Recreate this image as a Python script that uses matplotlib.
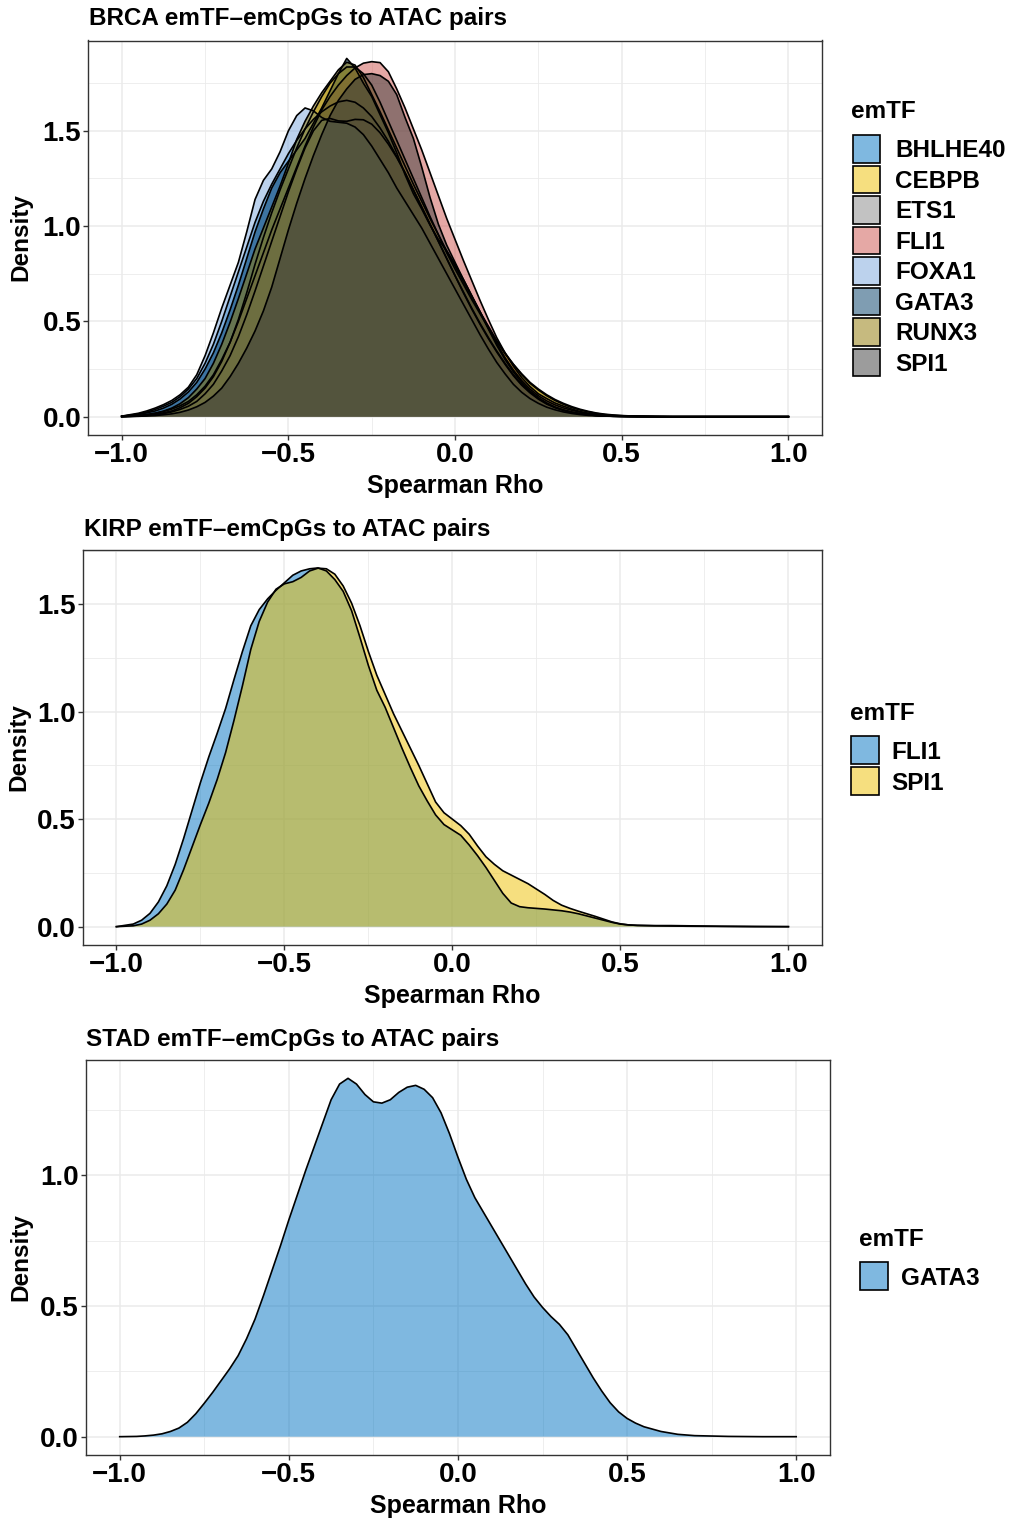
import matplotlib
matplotlib.use("Agg")
import matplotlib.pyplot as plt
from matplotlib.patches import Rectangle
from matplotlib.colors import to_rgba
from matplotlib.ticker import MultipleLocator

plt.rcParams['font.family'] = ['Liberation Sans', 'DejaVu Sans']
plt.rcParams['font.weight'] = 'bold'

# ---------------- data (density) ----------------
rho = [-1.0, -0.95, -0.925, -0.9, -0.875, -0.85, -0.825, -0.8, -0.775, -0.75,
       -0.725, -0.7, -0.675, -0.65, -0.625, -0.6, -0.575, -0.55, -0.525, -0.5,
       -0.475, -0.45, -0.425, -0.4, -0.375, -0.35, -0.325, -0.3, -0.275, -0.25,
       -0.225, -0.2, -0.175, -0.15, -0.125, -0.1, -0.075, -0.05, -0.025, 0.0,
       0.025, 0.05, 0.075, 0.1, 0.125, 0.15, 0.175, 0.2, 0.225, 0.25,
       0.275, 0.3, 0.325, 0.35, 0.375, 0.4, 0.425, 0.45, 0.475, 0.5,
       0.525, 0.55, 0.6, 0.65, 0.7, 0.8, 0.9, 1.0]

brca_tfs = ['BHLHE40', 'CEBPB', 'ETS1', 'FLI1', 'FOXA1', 'GATA3', 'RUNX3', 'SPI1']
brca_bhlhe40 = [0.002, 0.014, 0.024, 0.038, 0.055, 0.075, 0.105, 0.145, 0.20, 0.28,
                0.38, 0.50, 0.63, 0.76, 0.89, 1.02, 1.13, 1.22, 1.30, 1.38,
                1.45, 1.51, 1.56, 1.60, 1.63, 1.652, 1.66, 1.65, 1.62, 1.575,
                1.515, 1.445, 1.365, 1.28, 1.19, 1.10, 1.01, 0.92, 0.83, 0.74,
                0.65, 0.565, 0.485, 0.41, 0.34, 0.275, 0.215, 0.165, 0.125, 0.092,
                0.066, 0.047, 0.033, 0.022, 0.015, 0.01, 0.006, 0.004, 0.002, 0.001,
                0, 0, 0, 0, 0, 0, 0, 0]
brca_cebpb = [0.0, 0.004, 0.007, 0.012, 0.02, 0.03, 0.047, 0.07, 0.105, 0.15,
              0.21, 0.29, 0.39, 0.51, 0.65, 0.80, 0.94, 1.07, 1.19, 1.30,
              1.41, 1.51, 1.60, 1.68, 1.75, 1.80, 1.835, 1.835, 1.80, 1.74,
              1.65, 1.55, 1.45, 1.35, 1.25, 1.15, 1.05, 0.955, 0.86, 0.775,
              0.695, 0.615, 0.54, 0.465, 0.395, 0.33, 0.275, 0.225, 0.18, 0.145,
              0.115, 0.09, 0.07, 0.053, 0.039, 0.028, 0.019, 0.013, 0.009, 0.006,
              0.004, 0.003, 0.001, 0, 0, 0, 0, 0]
brca_ets1 = [0.0, 0.003, 0.006, 0.01, 0.016, 0.025, 0.038, 0.055, 0.08, 0.12,
             0.17, 0.24, 0.32, 0.42, 0.535, 0.66, 0.79, 0.92, 1.05, 1.18,
             1.30, 1.41, 1.50, 1.555, 1.565, 1.552, 1.55, 1.56, 1.558, 1.535,
             1.49, 1.43, 1.36, 1.28, 1.19, 1.10, 1.01, 0.92, 0.83, 0.74,
             0.655, 0.57, 0.49, 0.415, 0.345, 0.28, 0.22, 0.17, 0.13, 0.096,
             0.07, 0.05, 0.035, 0.024, 0.016, 0.01, 0.006, 0.004, 0.002, 0.001,
             0, 0, 0, 0, 0, 0, 0, 0]
brca_fli1 = [0.001, 0.006, 0.011, 0.018, 0.027, 0.04, 0.057, 0.08, 0.115, 0.16,
             0.22, 0.30, 0.39, 0.50, 0.62, 0.74, 0.86, 0.98, 1.09, 1.20,
             1.31, 1.42, 1.52, 1.61, 1.68, 1.74, 1.79, 1.83, 1.855, 1.863,
             1.858, 1.81, 1.72, 1.62, 1.51, 1.40, 1.28, 1.16, 1.04, 0.93,
             0.82, 0.715, 0.61, 0.51, 0.415, 0.335, 0.265, 0.205, 0.158, 0.12,
             0.095, 0.072, 0.055, 0.04, 0.027, 0.018, 0.012, 0.008, 0.005, 0.004,
             0.003, 0.002, 0.001, 0, 0, 0, 0, 0]
brca_foxa1 = [0.003, 0.018, 0.03, 0.045, 0.063, 0.085, 0.115, 0.155, 0.22, 0.32,
              0.44, 0.57, 0.69, 0.81, 0.97, 1.14, 1.24, 1.30, 1.39, 1.50,
              1.58, 1.62, 1.605, 1.57, 1.55, 1.545, 1.54, 1.52, 1.48, 1.42,
              1.35, 1.28, 1.20, 1.13, 1.06, 0.99, 0.91, 0.83, 0.75, 0.67,
              0.59, 0.51, 0.43, 0.355, 0.285, 0.225, 0.17, 0.128, 0.095, 0.07,
              0.05, 0.036, 0.025, 0.017, 0.011, 0.007, 0.005, 0.003, 0.002, 0.001,
              0.001, 0, 0, 0, 0, 0, 0, 0]
brca_gata3 = [0.002, 0.012, 0.02, 0.03, 0.045, 0.065, 0.093, 0.13, 0.18, 0.25,
              0.335, 0.44, 0.56, 0.69, 0.83, 0.97, 1.09, 1.20, 1.28, 1.34,
              1.40, 1.46, 1.54, 1.62, 1.71, 1.80, 1.88, 1.83, 1.75, 1.68,
              1.585, 1.49, 1.385, 1.27, 1.17, 1.09, 1.005, 0.93, 0.87, 0.80,
              0.72, 0.635, 0.55, 0.46, 0.375, 0.30, 0.235, 0.18, 0.135, 0.10,
              0.072, 0.05, 0.035, 0.024, 0.016, 0.01, 0.006, 0.004, 0.003, 0.002,
              0.001, 0.001, 0, 0, 0, 0, 0, 0]
brca_runx3 = [0.001, 0.006, 0.011, 0.018, 0.029, 0.045, 0.068, 0.10, 0.145, 0.20,
              0.28, 0.38, 0.495, 0.62, 0.75, 0.88, 0.99, 1.10, 1.21, 1.33,
              1.455, 1.55, 1.63, 1.70, 1.76, 1.82, 1.86, 1.845, 1.78, 1.69,
              1.60, 1.505, 1.41, 1.315, 1.22, 1.13, 1.04, 0.955, 0.87, 0.79,
              0.71, 0.63, 0.55, 0.475, 0.40, 0.335, 0.275, 0.22, 0.175, 0.14,
              0.11, 0.085, 0.065, 0.048, 0.035, 0.025, 0.017, 0.011, 0.007, 0.005,
              0.003, 0.002, 0.001, 0, 0, 0, 0, 0]
brca_spi1 = [0.0, 0.002, 0.004, 0.006, 0.01, 0.015, 0.023, 0.035, 0.052, 0.075,
             0.108, 0.15, 0.21, 0.28, 0.36, 0.45, 0.555, 0.68, 0.83, 0.98,
             1.12, 1.25, 1.37, 1.48, 1.58, 1.66, 1.72, 1.77, 1.795, 1.80,
             1.79, 1.76, 1.69, 1.57, 1.46, 1.31, 1.15, 1.01, 0.90, 0.81,
             0.72, 0.635, 0.55, 0.465, 0.385, 0.31, 0.245, 0.19, 0.145, 0.11,
             0.083, 0.062, 0.046, 0.034, 0.024, 0.016, 0.011, 0.007, 0.005, 0.003,
             0.002, 0.001, 0, 0, 0, 0, 0, 0]

kirp_tfs = ['FLI1', 'SPI1']
kirp_fli1 = [0.0, 0.012, 0.03, 0.062, 0.115, 0.19, 0.29, 0.41, 0.54, 0.67,
             0.79, 0.90, 1.015, 1.15, 1.28, 1.40, 1.475, 1.525, 1.565, 1.60,
             1.635, 1.655, 1.665, 1.669, 1.655, 1.615, 1.56, 1.47, 1.345, 1.215,
             1.10, 1.02, 0.925, 0.83, 0.74, 0.655, 0.585, 0.52, 0.475, 0.45,
             0.425, 0.38, 0.33, 0.275, 0.215, 0.155, 0.11, 0.093, 0.088, 0.085,
             0.082, 0.078, 0.074, 0.068, 0.06, 0.05, 0.04, 0.03, 0.02, 0.012,
             0.008, 0.006, 0.004, 0.003, 0.002, 0.001, 0, 0]
kirp_spi1 = [0.0, 0.004, 0.012, 0.03, 0.06, 0.105, 0.17, 0.265, 0.37, 0.475,
             0.575, 0.685, 0.81, 0.96, 1.12, 1.29, 1.42, 1.51, 1.57, 1.595,
             1.605, 1.625, 1.655, 1.668, 1.665, 1.64, 1.585, 1.505, 1.40, 1.28,
             1.17, 1.08, 0.99, 0.91, 0.83, 0.75, 0.665, 0.58, 0.53, 0.50,
             0.47, 0.43, 0.375, 0.325, 0.29, 0.26, 0.24, 0.22, 0.20, 0.175,
             0.15, 0.122, 0.10, 0.085, 0.072, 0.06, 0.048, 0.035, 0.022, 0.013,
             0.008, 0.006, 0.005, 0.005, 0.004, 0.002, 0.001, 0.0]

stad_tfs = ['GATA3']
stad_gata3 = [0.0, 0.001, 0.003, 0.006, 0.011, 0.02, 0.033, 0.055, 0.088, 0.128,
              0.17, 0.215, 0.26, 0.31, 0.375, 0.45, 0.54, 0.635, 0.73, 0.83,
              0.925, 1.02, 1.11, 1.20, 1.29, 1.35, 1.372, 1.35, 1.31, 1.282,
              1.277, 1.29, 1.318, 1.338, 1.345, 1.33, 1.298, 1.24, 1.16, 1.07,
              0.985, 0.915, 0.86, 0.805, 0.75, 0.695, 0.64, 0.585, 0.535, 0.495,
              0.46, 0.43, 0.39, 0.335, 0.28, 0.225, 0.175, 0.13, 0.095, 0.07,
              0.052, 0.038, 0.02, 0.009, 0.004, 0.001, 0.0, 0.0]

x_ticks = [-1.0, -0.5, 0.0, 0.5, 1.0]
x_tick_labels = ['\u22121.0', '\u22120.5', '0.0', '0.5', '1.0']
y_ticks_12 = [0.0, 0.5, 1.0, 1.5]
y_ticks_3 = [0.0, 0.5, 1.0]

palette = ['#0073C2', '#EFC000', '#868686', '#CD534C',
           '#7AA6DC', '#003C67', '#8F7700', '#3B3B3B']

for arr in [brca_bhlhe40, brca_cebpb, brca_ets1, brca_fli1, brca_foxa1,
            brca_gata3, brca_runx3, brca_spi1, kirp_fli1, kirp_spi1, stad_gata3]:
    assert len(arr) == len(rho), len(arr)

# ---------------- figure ----------------
W, H = 1011, 1519
fig = plt.figure(figsize=(W / 100, H / 100), dpi=100)


def fx(x):
    return x / W


def fy(y):
    return 1 - y / H


def panel(box, curves, names, colors, yticks, title, title_pos,
          xlabel_y, ylabel_pos, leg):
    l, t, r, b = box
    ax = fig.add_axes([fx(l), fy(b), fx(r) - fx(l), fy(t) - fy(b)])
    for y, c in zip(curves, colors):
        ax.fill_between(rho, 0, y, facecolor=c, alpha=0.5, linewidth=0)
        ax.plot(rho, y, color='black', linewidth=1.2, solid_joinstyle='round')
    m = max(max(y) for y in curves)
    ax.set_xlim(-1.1, 1.1)
    ax.set_ylim(-0.05 * m, 1.05 * m)
    ax.set_xticks(x_ticks)
    ax.set_xticklabels(x_tick_labels)
    ax.set_yticks(yticks)
    ax.set_yticklabels(['%.1f' % v for v in yticks])
    ax.xaxis.set_minor_locator(MultipleLocator(0.25))
    ax.yaxis.set_minor_locator(MultipleLocator(0.25))
    ax.set_axisbelow(True)
    ax.grid(which='major', color='#EBEBEB', linewidth=1.1)
    ax.grid(which='minor', color='#EBEBEB', linewidth=0.6)
    for s in ax.spines.values():
        s.set_color('#333333')
        s.set_linewidth(1.0)
    ax.tick_params(which='major', length=3.6, width=1.0, color='#333333',
                   labelsize=20, labelcolor='black', pad=1.5)
    ax.tick_params(which='minor', length=0)
    for lab in ax.get_xticklabels() + ax.get_yticklabels():
        lab.set_fontweight('bold')
    fig.text(fx(title_pos[0]), fy(title_pos[1]), title, fontsize=17.5,
             fontweight='bold', ha='left', va='baseline')
    fig.text(fx((l + r) / 2), fy(xlabel_y), 'Spearman Rho', fontsize=18,
             fontweight='bold', ha='center', va='baseline')
    fig.text(fx(ylabel_pos[0]), fy(ylabel_pos[1]), 'Density', fontsize=17.5,
             fontweight='bold', ha='center', va='center', rotation=90)
    lx, ly, kx, ky, ks, step, tx = leg
    fig.text(fx(lx), fy(ly), 'emTF', fontsize=17.5, fontweight='bold',
             ha='left', va='baseline')
    for i, (n, c) in enumerate(zip(names, colors)):
        top = ky + i * step
        rect = Rectangle((fx(kx), fy(top + ks)), fx(ks), ks / H,
                         transform=fig.transFigure,
                         facecolor=to_rgba(c, 0.5), edgecolor='black',
                         linewidth=1.2)
        fig.add_artist(rect)
        fig.text(fx(tx), fy(top + ks / 2 + 8.7), n, fontsize=17.5,
                 fontweight='bold', ha='left', va='baseline')
    return ax


panel((88.4, 40.5, 821.7, 434.6),
      [brca_bhlhe40, brca_cebpb, brca_ets1, brca_fli1,
       brca_foxa1, brca_gata3, brca_runx3, brca_spi1],
      brca_tfs, palette, y_ticks_12,
      'BRCA emTF\u2013emCpGs to ATAC pairs', (89, 25.5),
      493, (21, 237),
      (851, 118, 852.5, 135, 27.5, 30.5, 895))

panel((82.8, 550, 822, 944.6),
      [kirp_fli1, kirp_spi1], kirp_tfs, palette[:2], y_ticks_12,
      'KIRP emTF\u2013emCpGs to ATAC pairs', (84, 536),
      1003, (19, 747),
      (850, 720, 851, 736, 28, 31, 891))

panel((85.9, 1060.4, 830, 1454.6),
      [stad_gata3], stad_tfs, palette[:1], y_ticks_3,
      'STAD emTF\u2013emCpGs to ATAC pairs', (86, 1046),
      1513, (21, 1257),
      (859, 1246, 860, 1262, 28, 31, 901))

fig.savefig('out.png', dpi=100, facecolor='white')
